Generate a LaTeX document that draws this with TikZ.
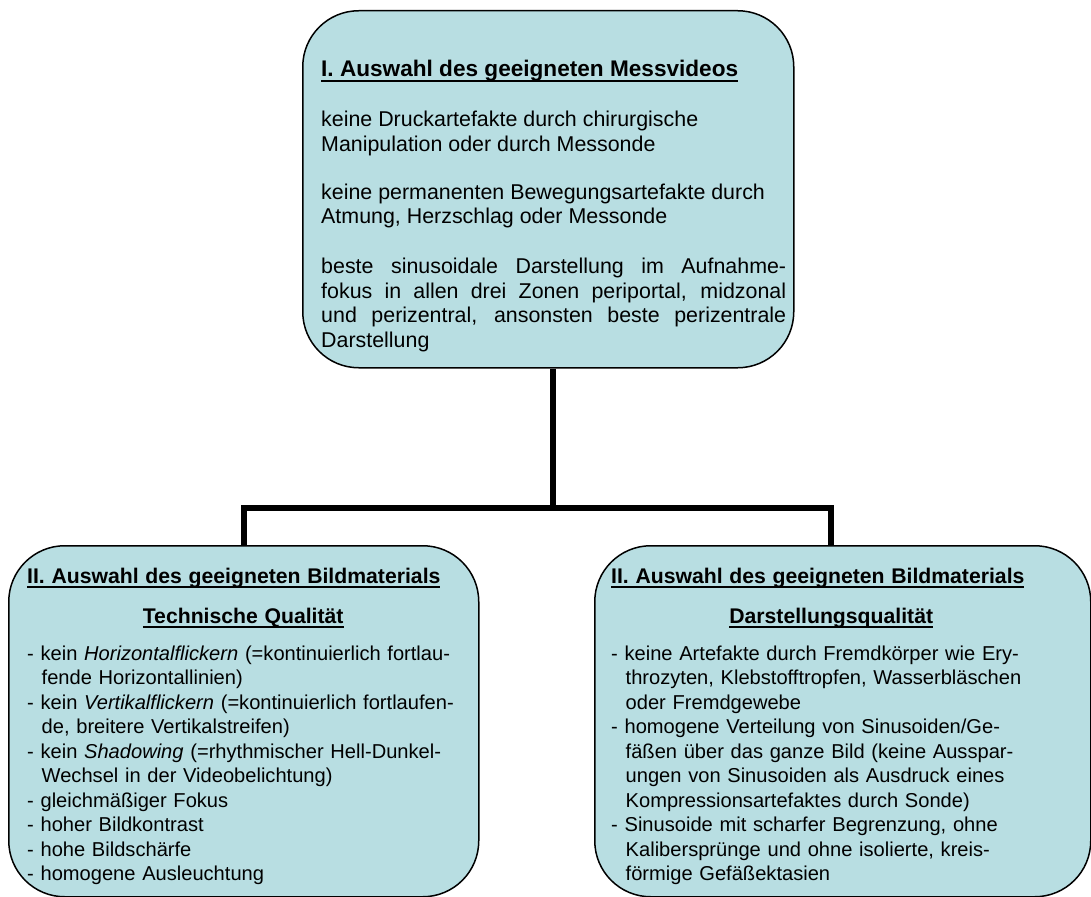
\documentclass[tikz,border=0pt]{standalone}
\usepackage{fontspec}
\setmainfont{Liberation Sans}
\usetikzlibrary{positioning}
\usepackage{color}
\definecolor{auswahlblue}{RGB}{184,222,226}
\newcommand{\auswahlcolor}[0]{auswahlblue}
\newsavebox{\titelbox}
\newcommand{\titel}[2][21.2pt]{\leavevmode{\fontsize{#1}{24.5pt}\selectfont
    \sbox{\titelbox}{\textbf{#2}}\rlap{\rule[-5.2pt]{\wd\titelbox}{1.8pt}}\usebox{\titelbox}}}
\newcommand{\kriterium}[0]{\par\hangindent=14.5pt\hangafter=1 - }
\hbadness=10000
\hfuzz=3pt

\begin{document}
\begin{tikzpicture}[x=1pt, y=-1pt,
    auswahl/.style={rectangle, rounded corners=56pt, draw=black, line width=1.5pt,
        fill=\auswahlcolor, inner sep=0pt, anchor=north west},
    auswahltext/.style={anchor=base west, inner sep=0pt,
        font=\fontsize{21.4pt}{24.5pt}\selectfont},
    kriterientext/.style={auswahltext, font=\fontsize{20.1pt}{24.5pt}\selectfont},
    branch/.style={draw=black, line width=6pt}]
    \useasboundingbox (0,0) rectangle (1091,896);

    \node[auswahl, minimum width=491pt, minimum height=357pt]
        (messvideo) at (302,10) {};
    \node[auswahl, minimum width=470pt, minimum height=351pt]
        (technik) at (8,545) {};
    \node[auswahl, minimum width=496pt, minimum height=351pt]
        (darstellung) at (594,545) {};

    \node[auswahltext, text width=465pt, align=justify]
        (messvideo_text) at (321,77) {
        \titel[22.6pt]{I. Auswahl des geeigneten Messvideos}\par\vspace{25.5pt}
        keine Druckartefakte durch chirurgische\newline Manipulation oder durch Messonde\par\vspace{23.5pt}
        keine permanenten Bewegungsartefakte durch\newline Atmung, Herzschlag oder Messonde\par\vspace{25.5pt}
        beste sinusoidale Darstellung im Aufnahme-\linebreak fokus in allen drei Zonen periportal, midzonal\linebreak
        und perizentral, ansonsten beste perizentrale\linebreak Darstellung\par};
    \node[kriterientext, text width=432pt, align=left]
        (technik_text) at (27,583) {
        \titel{II. Auswahl des geeigneten Bildmaterials}\par\vspace{15.5pt}
        {\centering\titel{Technische Qualität}\par}\vspace{12.5pt}
        \kriterium kein \textit{Horizontalflickern} (=kontinuierlich fortlau-\newline fende Horizontallinien)
        \kriterium kein \textit{Vertikalflickern} (=kontinuierlich fortlaufen-\newline de, breitere Vertikalstreifen)
        \kriterium kein \textit{Shadowing} (=rhythmischer Hell-Dunkel-\newline Wechsel in der Videobelichtung)
        \kriterium gleichmäßiger Fokus
        \kriterium hoher Bildkontrast
        \kriterium hohe Bildschärfe
        \kriterium homogene Ausleuchtung\par};
    \node[kriterientext, text width=440pt, align=left]
        (darstellung_text) at (611,583) {
        \titel{II. Auswahl des geeigneten Bildmaterials}\par\vspace{15.5pt}
        {\centering\titel{Darstellungsqualität}\par}\vspace{12.5pt}
        \kriterium keine Artefakte durch Fremdkörper wie Ery-\newline throzyten, Klebstofftropfen, Wasserbläschen\newline oder Fremdgewebe
        \kriterium homogene Verteilung von Sinusoiden/Ge-\newline fäßen über das ganze Bild (keine Ausspar-\newline ungen von Sinusoiden als Ausdruck eines\newline Kompressionsartefaktes durch Sonde)
        \kriterium Sinusoide mit scharfer Begrenzung, ohne\newline Kalibersprünge und ohne isolierte, kreis-\newline förmige Gefäßektasien\par};

    % Verbindungen
    \coordinate (junction) at (553,508);
    \draw[branch] (messvideo.south -| junction) -- (junction);
    \draw[branch] (technik.north) |- (junction) -| ([xshift=-12pt]darstellung.north);
\end{tikzpicture}
\end{document}
